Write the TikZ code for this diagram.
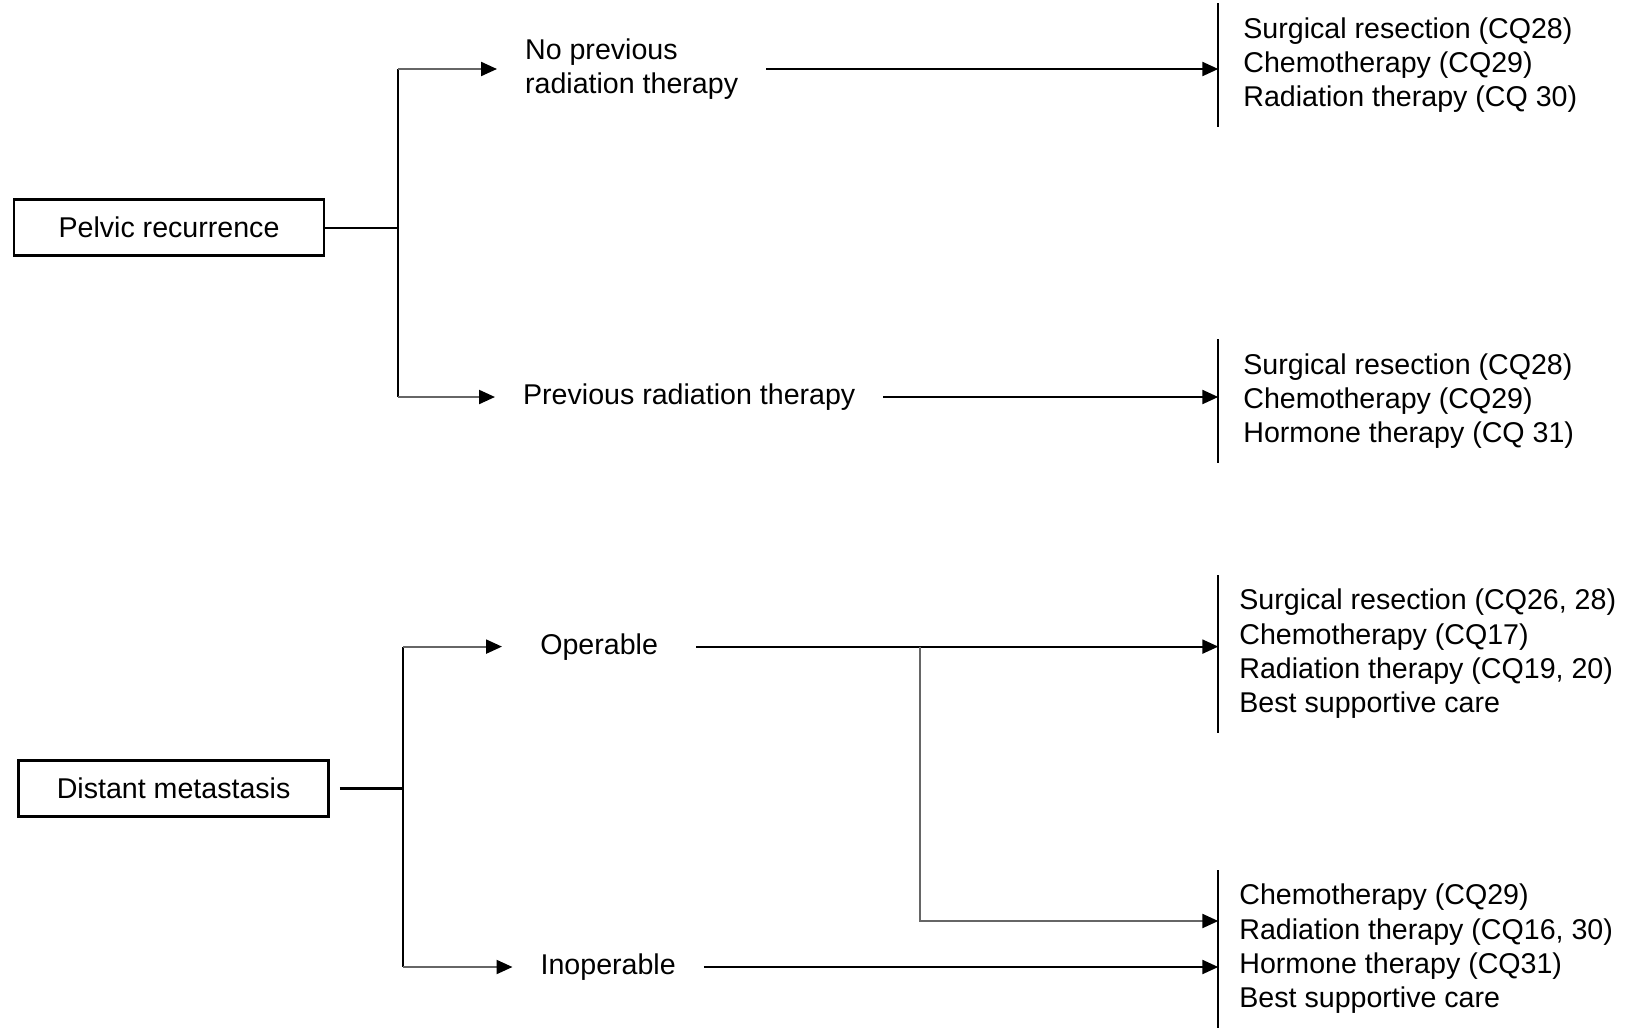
\documentclass[tikz,border=0pt]{standalone}
\usepackage{fontspec}
\setmainfont{Liberation Sans}
\usetikzlibrary{arrows.meta}
\begin{document}
\begin{tikzpicture}[x=0.5pt,y=-0.5pt,
    font=\fontsize{14.3}{17.15}\selectfont,
    line width=1.1pt,
    start/.style={draw,line width=1.3pt,minimum width=155pt,minimum height=28pt,inner sep=0pt},
    branch/.style={anchor=west,align=left,inner xsep=13.5pt,inner ysep=0pt},
    care/.style={anchor=west,align=left,inner xsep=12pt,inner ysep=6.5pt},
    tip/.style={-{Triangle[length=8pt,width=7pt]}},
    stub/.style={draw=black!60,-{Triangle[length=8pt,width=7pt,color=black]}}]
      \useasboundingbox (0,0) rectangle (1630,1029);
      \draw
        (169,227.7) node[start] (pelvic){Pelvic recurrence}
        (173.6,788.5) node[start] (distant){Distant metastasis}
        (497,69) node[branch] (noprev){No previous\\radiation therapy}
        (495,397) node[branch] (prev){Previous radiation therapy}
        (502,646.6) node[branch,minimum width=96pt] (oper){Operable}
        (512.5,967) node[branch] (inop){Inoperable}
        (1218.3,65) node[care] (care1){Surgical resection (CQ28)\\Chemotherapy (CQ29)\\Radiation therapy (CQ 30)}
        (1218.3,401) node[care] (care2){Surgical resection (CQ28)\\Chemotherapy (CQ29)\\Hormone therapy (CQ 31)}
        (1218.3,654) node[care,inner xsep=10pt] (care3){Surgical resection (CQ26, 28)\\Chemotherapy (CQ17)\\Radiation therapy (CQ19, 20)\\Best supportive care}
        (1218.3,949) node[care,inner xsep=10pt] (care4){Chemotherapy (CQ29)\\Radiation therapy (CQ16, 30)\\Hormone therapy (CQ31)\\Best supportive care};
      \coordinate (pj) at (398,227.7);
      \coordinate (dj) at (403.3,788.5);
      \coordinate (split) at (920,646.6);
      \coordinate (merge) at (1218.3,921);
      % pelvic recurrence
      \draw (pelvic.east) to (pj);
      \draw (pj |- noprev.west) to (pj |- prev.west);
      \draw[stub] (pj |- noprev.west) to (noprev.west);
      \draw[stub] (pj |- prev.west) to (prev.west);
      \draw[tip] (noprev.east) to (noprev.east -| care1.west);
      \draw[tip] (prev.east) to (prev.east -| care2.west);
      \draw (care1.north west) to (care1.south west);
      \draw (care2.north west) to (care2.south west);
      % distant metastasis
      \draw[shorten <=5pt] (distant.east) to (dj);
      \draw (dj |- oper.west) to (dj |- inop.west);
      \draw[stub] (dj |- oper.west) to (oper.west);
      \draw[stub] (dj |- inop.west) to (inop.west);
      \draw[tip] (oper.east) to (oper.east -| care3.west);
      \draw[tip] (inop.east) to (inop.east -| care4.west);
      \draw[stub] (split) |- (merge);
      \draw (care3.north west) to (care3.south west);
      \draw (care4.north west) to (care4.south west);
    \end{tikzpicture}
\end{document}
